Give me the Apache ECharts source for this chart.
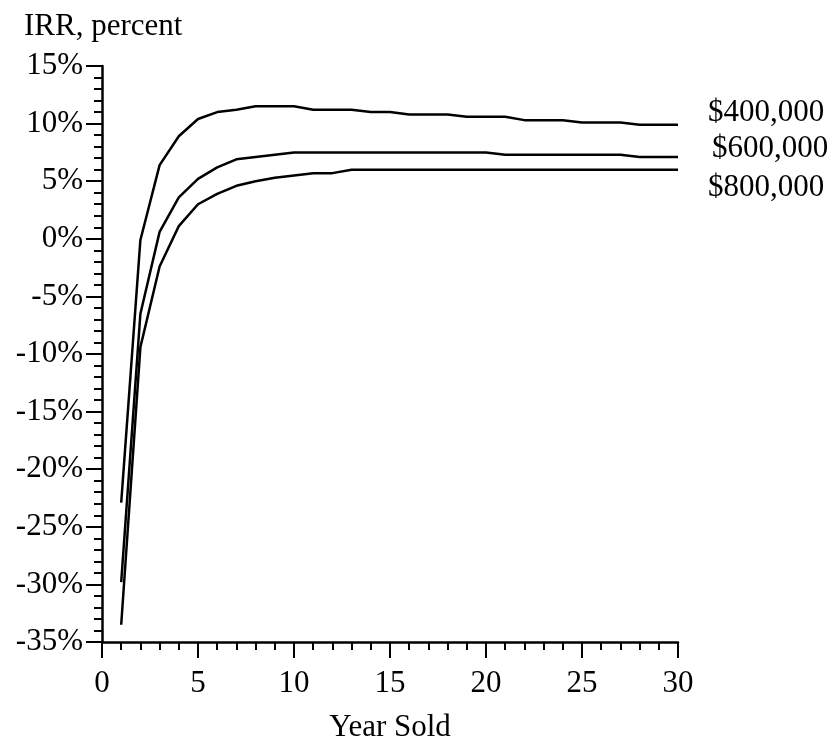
<!DOCTYPE html>
<html>
<head>
<meta charset="utf-8">
<script src="https://cdn.jsdelivr.net/npm/echarts@6/dist/echarts.min.js"></script>
<style>
  html, body { margin: 0; padding: 0; background: #fff; }
  #chart { width: 833px; height: 744px; }
</style>
</head>
<body>
<div id="chart"></div>
<script>
// year the property is sold
const years = [1, 2, 3, 4, 5, 6, 7, 8, 9, 10, 11, 12, 13, 14, 15,
  16, 17, 18, 19, 20, 21, 22, 23, 24, 25, 26, 27, 28, 29, 30]

// IRR in percent, one list per price
const irr400 = [-22.9, -0.1, 6.4, 8.9, 10.4, 11.0, 11.2, 11.5, 11.5, 11.5,
  11.2, 11.2, 11.2, 11.0, 11.0, 10.8, 10.8, 10.8, 10.6, 10.6,
  10.6, 10.3, 10.3, 10.3, 10.1, 10.1, 10.1, 9.9, 9.9, 9.9]
const irr600 = [-29.8, -6.5, 0.6, 3.6, 5.2, 6.2, 6.9, 7.1, 7.3, 7.5,
  7.5, 7.5, 7.5, 7.5, 7.5, 7.5, 7.5, 7.5, 7.5, 7.5,
  7.3, 7.3, 7.3, 7.3, 7.3, 7.3, 7.3, 7.1, 7.1, 7.1]
const irr800 = [-33.5, -9.4, -2.4, 1.1, 3.0, 3.9, 4.6, 5.0, 5.3, 5.5,
  5.7, 5.7, 6.0, 6.0, 6.0, 6.0, 6.0, 6.0, 6.0, 6.0,
  6.0, 6.0, 6.0, 6.0, 6.0, 6.0, 6.0, 6.0, 6.0, 6.0]

const seriesNames = ['$400,000', '$600,000', '$800,000']

const font = '"Liberation Serif", "Times New Roman", serif'
const fontSize = 31

function pairs(values) {
  return years.map((y, i) => [y, values[i]])
}

function makeSeries(name, values, distance, dy) {
  return {
    name: name,
    type: 'line',
    data: pairs(values),
    symbol: 'none',
    lineStyle: { color: '#000', width: 2.5 },
    endLabel: {
      show: true,
      formatter: '{a}',
      distance: distance,
      offset: [0, dy],
      color: '#000',
      fontFamily: font,
      fontSize: fontSize
    }
  }
}

const chart = echarts.init(document.getElementById('chart'))
const options = {
  animation: false,
  title: {
    text: 'IRR, percent',
    left: 19,
    top: 6,
    textStyle: {
      color: '#000',
      fontFamily: font,
      fontSize: fontSize,
      fontWeight: 'normal'
    }
  },
  grid: {
    left: 102,
    right: 155,
    top: 66,
    bottom: 102,
    outerBoundsMode: 'none'
  },
  xAxis: {
    type: 'value',
    min: 0,
    max: 30,
    interval: 5,
    name: 'Year Sold',
    nameLocation: 'middle',
    nameGap: 70,
    nameTextStyle: { color: '#000', fontFamily: font, fontSize: fontSize },
    axisLine: { onZero: false, lineStyle: { color: '#000', width: 2.5 } },
    axisTick: { length: 16, lineStyle: { color: '#000', width: 2 } },
    minorTick: { show: true, splitNumber: 5, length: 8, lineStyle: { color: '#000', width: 2 } },
    splitLine: { show: false },
    axisLabel: { margin: 26, color: '#000', fontFamily: font, fontSize: fontSize }
  },
  yAxis: {
    type: 'value',
    min: -35,
    max: 15,
    interval: 5,
    axisLine: { show: true, onZero: false, lineStyle: { color: '#000', width: 2.5 } },
    axisTick: { show: true, length: 16, lineStyle: { color: '#000', width: 2 } },
    minorTick: { show: true, splitNumber: 5, length: 8, lineStyle: { color: '#000', width: 2 } },
    splitLine: { show: false },
    axisLabel: {
      margin: 19,
      color: '#000',
      fontFamily: font,
      fontSize: fontSize,
      formatter: '{value}%'
    }
  },
  series: [
    makeSeries(seriesNames[0], irr400, 30, -12),
    makeSeries(seriesNames[1], irr600, 34, -8),
    makeSeries(seriesNames[2], irr800, 30, 18)
  ]
}
chart.setOption(options)
</script>
</body>
</html>
